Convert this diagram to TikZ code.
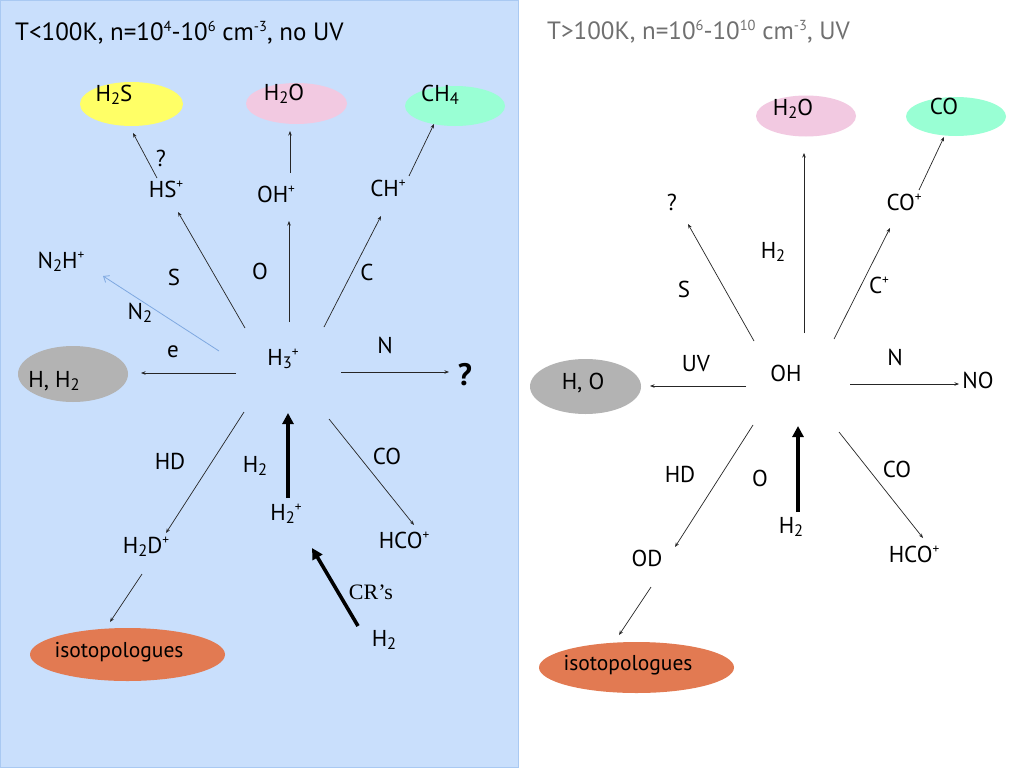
\documentclass[tikz,border=0pt]{standalone}
\usepackage{fontspec}
\usepackage{graphicx}
\setmainfont{PT Sans}
\newfontfamily\crfont{Liberation Serif}
\usetikzlibrary{arrows.meta,shapes.geometric}
\newcommand\ssub[1]{\raisebox{-0.3ex}{\scalebox{0.72}{#1}}}
\newcommand\ssup[1]{\raisebox{0.75ex}{\scalebox{0.58}{#1}}}
\definecolor{panelblue}{HTML}{C9DFFC}
\definecolor{paneledge}{HTML}{A9C9F2}
\definecolor{cyel}{HTML}{FFFF66}
\definecolor{cpink}{HTML}{F2C9E1}
\definecolor{cmint}{HTML}{99FFD4}
\definecolor{cgray}{HTML}{B3B3B3}
\definecolor{corange}{HTML}{E27A52}
\definecolor{ctitle}{HTML}{707070}
\definecolor{cn2}{HTML}{7FA8E0}
\tikzset{
  txt/.style={inner sep=0pt, anchor=base, font=\fontsize{23}{25}\selectfont},
  isotxt/.style={inner sep=0pt, anchor=base, font=\fontsize{21.5}{24}\selectfont},
  ttl/.style={inner sep=0pt, anchor=base west, font=\fontsize{25}{27}\selectfont},
  ell/.style={ellipse, draw=none, inner sep=0pt},
  arr/.style={-{Stealth[length=4.5pt,width=3.5pt]}, line width=0.7pt, draw=black!85},
  bluearr/.style={-{Straight Barb[length=5pt,width=8pt]}, line width=0.8pt, draw=cn2},
  bigarr/.style={-{Triangle[length=11pt,width=11pt]}, line width=3.6pt, draw=black},
}
\begin{document}
\begin{tikzpicture}[x=1pt,y=-1pt]
\useasboundingbox (0,0) rectangle (1024,768);
\fill[white] (0,0) rectangle (1024,768);
\filldraw[fill=panelblue, draw=paneledge, line width=1pt] (0.5,0.5) rectangle (518,767.5);

% ---------------- left panel ----------------
\node[ttl] (tl) at (15,41) {T<100K, n=10\ssup{4}-10\ssup{6} cm\ssup{-3}, no UV};

\node[ell, fill=cyel, minimum width=103pt, minimum height=44pt] (eh2s) at (131.5,104) {};
\node[txt] (th2s) at (114,101) {H\ssub{2}S};
\node[ell, fill=cpink, minimum width=101pt, minimum height=41pt] (eh2oL) at (296.5,103.5) {};
\node[txt] (th2oL) at (284,100) {H\ssub{2}O};
\node[ell, fill=cmint, minimum width=100pt, minimum height=40pt] (ech4) at (455,106) {};
\node[txt] (tch4) at (440,101) {CH\ssub{4}};

\node[txt] (qhs) at (161,166) {?};
\node[txt] (hs) at (166,197) {HS\ssup{+}};
\node[txt] (ohp) at (276,202) {OH\ssup{+}};
\node[txt] (chp) at (388,196) {CH\ssup{+}};

\node[txt] (n2h) at (61,268) {N\ssub{2}H\ssup{+}};
\node[txt] (lS) at (174,285) {S};
\node[txt] (lO) at (260,279) {O};
\node[txt] (lC) at (367,280) {C};
\node[txt] (lN2) at (140,319) {N\ssub{2}};
\node[txt] (le) at (173,357) {e};

\node[ell, fill=cgray, minimum width=110pt, minimum height=56pt] (ehh) at (73,374) {};
\node[txt] (thh) at (54,387) {H, H\ssub{2}};

\node[txt] (h3) at (283,365) {H\ssub{3}\ssup{+}};
\node[txt] (lN) at (385,353) {N};
\node[txt, font=\fontsize{31}{33}\selectfont\bfseries] (qN) at (465,385) {?};

\node[txt] (lHD) at (170,469) {HD};
\node[txt] (lH2a) at (255,472) {H\ssub{2}};
\node[txt] (lCO) at (387,464) {CO};
\node[txt] (h2p) at (286,520) {H\ssub{2}\ssup{+}};
\node[txt] (h2d) at (146,553) {H\ssub{2}D\ssup{+}};
\node[txt] (hco) at (404,548) {HCO\ssup{+}};
\node[txt, font=\crfont\fontsize{22}{24}\selectfont] (cr) at (371,599) {CR’s};
\node[txt] (h2b) at (384,646) {H\ssub{2}};

\node[ell, fill=corange, minimum width=195pt, minimum height=53pt] (eisoL) at (127.5,654.5) {};
\node[isotxt] (tisoL) at (119,657) {isotopologues};

% left connectors
\coordinate (a1s) at (157,178); \coordinate (a1e) at (133,133);
\coordinate (a2s) at (290,173); \coordinate (a2e) at (290,131);
\coordinate (a3s) at (409,176); \coordinate (a3e) at (434,124);
\coordinate (a4s) at (245,328); \coordinate (a4e) at (178,212);
\coordinate (a5s) at (289,322); \coordinate (a5e) at (289,221);
\coordinate (a6s) at (324,327); \coordinate (a6e) at (381,216);
\coordinate (a7s) at (219,351); \coordinate (a7e) at (103,276);
\coordinate (a8s) at (236,373); \coordinate (a8e) at (141,373);
\coordinate (a9s) at (341,372); \coordinate (a9e) at (449,372);
\coordinate (a10s) at (244,412); \coordinate (a10e) at (166,533);
\coordinate (a11s) at (288,498); \coordinate (a11e) at (288,413);
\coordinate (a12s) at (329,419); \coordinate (a12e) at (414,525);
\coordinate (a13s) at (142,574); \coordinate (a13e) at (110,622);
\coordinate (a14s) at (358,626); \coordinate (a14e) at (312,548);

\draw[arr] (a1s) -- (a1e);
\draw[arr] (a2s) -- (a2e);
\draw[arr] (a3s) -- (a3e);
\draw[arr] (a4s) -- (a4e);
\draw[arr] (a5s) -- (a5e);
\draw[arr] (a6s) -- (a6e);
\draw[bluearr] (a7s) -- (a7e);
\draw[arr] (a8s) -- (a8e);
\draw[arr] (a9s) -- (a9e);
\draw[arr] (a10s) -- (a10e);
\draw[bigarr] (a11s) -- (a11e);
\draw[arr] (a12s) -- (a12e);
\draw[arr] (a13s) -- (a13e);
\draw[bigarr] (a14s) -- (a14e);

% ---------------- right panel ----------------
\node[ttl, text=ctitle] (tr) at (547,40) {T>100K, n=10\ssup{6}-10\ssup{10} cm\ssup{-3}, UV};

\node[ell, fill=cpink, minimum width=100pt, minimum height=41pt] (eh2oR) at (806,116) {};
\node[txt] (th2oR) at (793,115) {H\ssub{2}O};
\node[ell, fill=cmint, minimum width=100pt, minimum height=39pt] (eco) at (956,116.5) {};
\node[txt] (tco) at (944,114) {CO};

\node[txt] (qS) at (672,210) {?};
\node[txt] (cop) at (904,210) {CO\ssup{+}};
\node[txt] (rH2) at (773,258) {H\ssub{2}};
\node[txt] (rS) at (684,297) {S};
\node[txt] (rC) at (879,293) {C\ssup{+}};
\node[txt] (rUV) at (696,371) {UV};
\node[txt] (oh) at (786,381) {OH};
\node[txt] (rN) at (895,365) {N};
\node[txt] (no) at (978,388) {NO};

\node[ell, fill=cgray, minimum width=111pt, minimum height=55pt] (eho) at (585.5,386.5) {};
\node[txt] (tho) at (583,389) {H, O};

\node[txt] (rHD) at (680,482) {HD};
\node[txt] (rO) at (760,486) {O};
\node[txt] (rCO) at (897,477) {CO};
\node[txt] (rH2b) at (791,533) {H\ssub{2}};
\node[txt] (od) at (647,566) {OD};
\node[txt] (rhco) at (914,562) {HCO\ssup{+}};

\node[ell, fill=corange, minimum width=195pt, minimum height=51pt] (eisoR) at (636.5,667.5) {};
\node[isotxt] (tisoR) at (628,670) {isotopologues};

\coordinate (b1s) at (754,341); \coordinate (b1e) at (688,224);
\coordinate (b2s) at (804,333); \coordinate (b2e) at (804,153);
\coordinate (b3s) at (919,190); \coordinate (b3e) at (944,137);
\coordinate (b4s) at (834,339); \coordinate (b4e) at (890,228);
\coordinate (b5s) at (746,386); \coordinate (b5e) at (650,386);
\coordinate (b6s) at (850,384); \coordinate (b6e) at (959,384);
\coordinate (b7s) at (753,425); \coordinate (b7e) at (675,547);
\coordinate (b8s) at (798,512); \coordinate (b8e) at (798,426);
\coordinate (b9s) at (839,432); \coordinate (b9e) at (923,538);
\coordinate (b10s) at (651,587); \coordinate (b10e) at (619,635);

\draw[arr] (b1s) -- (b1e);
\draw[arr] (b2s) -- (b2e);
\draw[arr] (b3s) -- (b3e);
\draw[arr] (b4s) -- (b4e);
\draw[arr] (b5s) -- (b5e);
\draw[arr] (b6s) -- (b6e);
\draw[arr] (b7s) -- (b7e);
\draw[bigarr] (b8s) -- (b8e);
\draw[arr] (b9s) -- (b9e);
\draw[arr] (b10s) -- (b10e);
\end{tikzpicture}
\end{document}
